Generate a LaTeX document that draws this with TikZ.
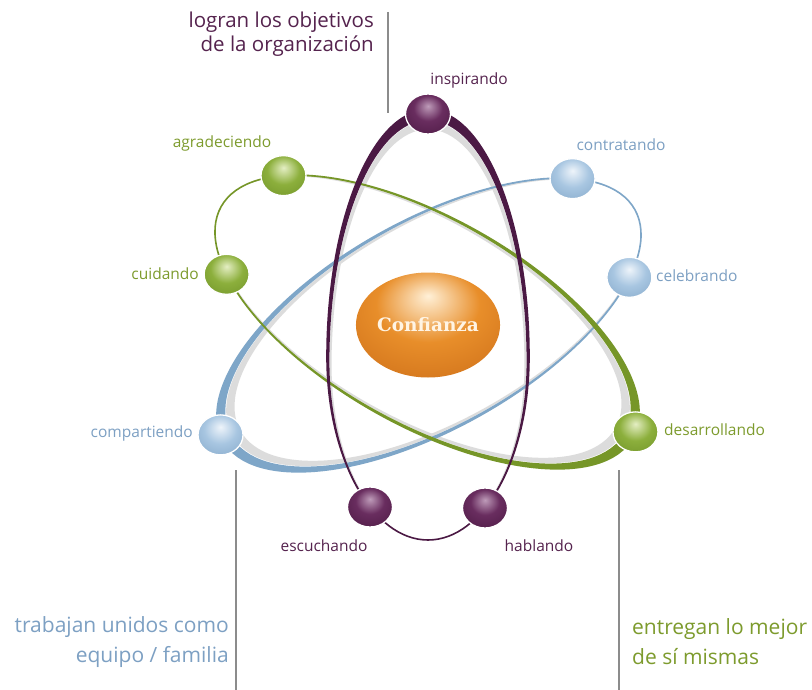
\documentclass[tikz,border=0pt]{standalone}
\usepackage{fontspec}
\usetikzlibrary{shapes.geometric}
\newfontfamily\labfont{Open Sans}
\newfontfamily\conffont{DejaVu Serif}
\definecolor{pur}{RGB}{75,25,68}
\definecolor{purtxt}{RGB}{85,35,78}
\definecolor{grn}{RGB}{118,150,40}
\definecolor{grntxt}{RGB}{125,155,45}
\definecolor{blu}{RGB}{126,166,200}
\definecolor{blutxt}{RGB}{125,160,195}
\definecolor{shad}{RGB}{220,220,220}
\definecolor{vline}{RGB}{140,140,140}
\definecolor{conftxt}{RGB}{255,244,228}
% sphere colours
\definecolor{purhi}{RGB}{190,155,185}
\definecolor{purmid}{RGB}{105,45,95}
\definecolor{purdark}{RGB}{68,20,60}
\definecolor{grnhi}{RGB}{228,238,195}
\definecolor{grnmid}{RGB}{140,175,60}
\definecolor{grndark}{RGB}{105,140,35}
\definecolor{bluhi}{RGB}{238,244,250}
\definecolor{blumid}{RGB}{168,198,225}
\definecolor{bludark}{RGB}{122,160,195}
\definecolor{orhi}{RGB}{255,240,215}
\definecolor{ormid}{RGB}{232,142,42}
\definecolor{ordark}{RGB}{200,105,22}
\pgfdeclareradialshading{sphpur}{\pgfpoint{0bp}{10bp}}{color(0bp)=(purhi); color(16bp)=(purmid); color(45bp)=(purdark); color(60bp)=(purdark)}
\pgfdeclareradialshading{sphgrn}{\pgfpoint{0bp}{10bp}}{color(0bp)=(grnhi); color(18bp)=(grnmid); color(45bp)=(grndark); color(60bp)=(grndark)}
\pgfdeclareradialshading{sphblu}{\pgfpoint{0bp}{10bp}}{color(0bp)=(bluhi); color(18bp)=(blumid); color(45bp)=(bludark); color(60bp)=(bludark)}
\pgfdeclareradialshading{sphor}{\pgfpoint{0bp}{14bp}}{color(0bp)=(orhi); color(18bp)=(ormid); color(44bp)=(ordark); color(60bp)=(ordark)}
% ellipse scaled by #1 about its right end (thin end)
\newcommand\myellR[1]{({236*(1-#1)},0) ellipse[x radius={236*#1*1pt},y radius={104*#1*1pt}]}
% ellipse scaled by #1 about its left end (thin end)
\newcommand\myellL[1]{({-236*(1-#1)},0) ellipse[x radius={236*#1*1pt},y radius={104*#1*1pt}]}
% egg scaled by #1 about its bottom point (428,540)
\newcommand\myegg[1]{({428+101*#1},{540-183*#1}) arc[start angle=0,end angle=180,x radius={101*#1*1pt},y radius={247*#1*1pt}] arc[start angle=180,end angle=360,x radius={101*#1*1pt},y radius={183*#1*1pt}] -- cycle}
\begin{document}
\begin{tikzpicture}[x=1pt,y=-1pt,
  ballb/.style={ellipse, minimum width=45pt, minimum height=40pt, inner sep=0pt,
    draw=white, line width=1.3pt, shading=#1},
  lab/.style={font=\labfont\fontsize{15.5}{19}\selectfont, inner sep=0pt},
  big/.style={font=\labfont\fontsize{21}{30}\selectfont, inner sep=0pt},
  orbit/.style={line width=1.6pt},
  guide/.style={draw=vline, line width=1.5pt}]
\useasboundingbox (0,0) rectangle (812,690);
\fill[white] (0,0) rectangle (812,690);
% grey shadows
\begin{scope}[shift={(429,325)},rotate=29.3]
  \fill[shad,even odd rule] \myellR{0.978} \myellR{0.958};
\end{scope}
\begin{scope}[shift={(427,322)},rotate=-29.3]
  \fill[shad,even odd rule] \myellL{0.978} \myellL{0.958};
\end{scope}
\fill[shad,even odd rule] \myegg{0.974} \myegg{0.955};
% blue orbit
\begin{scope}[shift={(429,325)},rotate=29.3]
  \draw[blu,orbit] (0,0) ellipse[x radius=236pt,y radius=104pt];
  \fill[blu,even odd rule] \myellR{1} \myellR{0.98};
\end{scope}
% green orbit
\begin{scope}[shift={(427,322)},rotate=-29.3]
  \draw[grn,orbit] (0,0) ellipse[x radius=236pt,y radius=104pt];
  \fill[grn,even odd rule] \myellL{1} \myellL{0.98};
\end{scope}
% purple orbit
\draw[pur,orbit] \myegg{1};
\fill[pur,even odd rule] \myegg{1} \myegg{0.976};
% balls
\begin{scope}[shift={(429,325)},rotate=29.3]
  \node[ballb=sphblu] (contr) at (196.8,-57.4) {};
  \node[ballb=sphblu] (celeb) at (198.1,56.5) {};
  \node[ballb=sphblu] (compa) at (-235.6,-6.2) {};
\end{scope}
\begin{scope}[shift={(427,322)},rotate=-29.3]
  \node[ballb=sphgrn] (agrad) at (-196.8,-57.4) {};
  \node[ballb=sphgrn] (cuida) at (-198.1,56.5) {};
  \node[ballb=sphgrn] (desar) at (235.6,-6.2) {};
\end{scope}
\node[ballb=sphpur] (inspi) at (428,114) {};
\node[ballb=sphpur] (escuc) at (370,507) {};
\node[ballb=sphpur] (habla) at (485,508) {};
\node[ellipse, minimum width=117pt, minimum height=105pt, inner sep=0pt,
  shading=sphor, text=conftxt,
  font=\conffont\bfseries\fontsize{18.5}{18.5}\selectfont] (conf) at (428,325) {Confianza};
% ball labels
\node[lab, text=purtxt] (linspi) at (469,80) {inspirando};
\node[lab, text=grntxt] (lagrad) at (222,143) {agradeciendo};
\node[lab, text=blutxt] (lcontr) at (621,145) {contratando};
\node[lab, text=grntxt, anchor=east] (lcuida) at (199,274) {cuidando};
\node[lab, text=blutxt, anchor=west] (lceleb) at (656,276) {celebrando};
\node[lab, text=blutxt, anchor=east] (lcompa) at (193,433) {compartiendo};
\node[lab, text=grntxt, anchor=west] (ldesar) at (664,430) {desarrollando};
\node[lab, text=purtxt] (lescuc) at (324,546) {escuchando};
\node[lab, text=purtxt] (lhabla) at (539,546) {hablando};
% guide lines
\coordinate (g1a) at (388,12); \coordinate (g1b) at (388,113);
\coordinate (g2a) at (236,470); \coordinate (g2b) at (236,690);
\coordinate (g3a) at (619,470); \coordinate (g3b) at (619,690);
\draw[guide] (g1a) -- (g1b);
\draw[guide] (g2a) -- (g2b);
\draw[guide] (g3a) -- (g3b);
% big captions
\node[big, text=purtxt, align=right, anchor=east,
  font=\labfont\fontsize{20.5}{24}\selectfont] (obj) at (374,34) {logran los objetivos\\de la organización};
\node[big, text=blutxt, align=right, anchor=east] (team) at (229,642) {trabajan unidos como\\equipo / familia};
\node[big, text=grntxt, align=left, anchor=west] (best) at (632,642) {entregan lo mejor\\de sí mismas};
\end{tikzpicture}
\end{document}
